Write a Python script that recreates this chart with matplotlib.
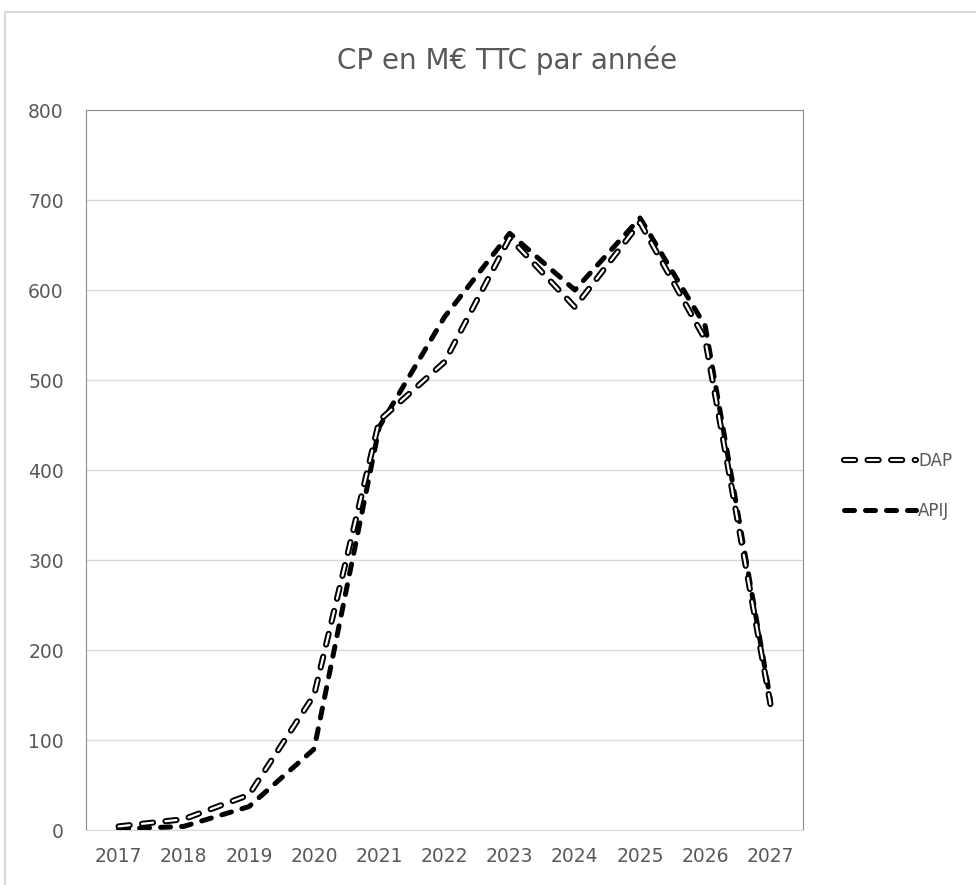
import matplotlib.pyplot as plt
import matplotlib.patheffects as pe
from matplotlib.patches import Rectangle

years = ['2017', '2018', '2019', '2020', '2021', '2022', '2023', '2024', '2025', '2026', '2027']
dap = [4, 12, 39, 150, 455, 520, 658, 581, 675, 545, 140]
apij = [1, 4, 26, 90, 448, 570, 663, 600, 680, 560, 145]

plt.rcParams['font.family'] = ['DejaVu Sans']
txt = '#595959'

fig = plt.figure(figsize=(9.76, 8.85), dpi=100)
fig.patches.append(Rectangle((5 / 976, -0.1), 1.2, 0.1 + (885 - 12) / 885,
                             transform=fig.transFigure, fill=False,
                             edgecolor='#d9d9d9', linewidth=1.5))
ax = fig.add_axes([86 / 976, 55 / 885, 717 / 976, 720 / 885])

x = list(range(len(years)))
ax.plot(x, apij, color='black', linewidth=3.6, linestyle=(0, (2.0, 2.2)),
        dash_capstyle='round', label='APIJ', zorder=3)
ax.plot(x, dap, color='white', linewidth=1.6, linestyle=(0, (5.0, 5.6)),
        dash_capstyle='round', label='DAP', zorder=4,
        path_effects=[pe.Stroke(linewidth=4.4, foreground='black'), pe.Normal()])

ax.set_xlim(-0.5, len(years) - 0.5)
ax.set_ylim(0, 800)
ax.set_yticks(range(0, 801, 100))
ax.set_xticks(x)
ax.set_xticklabels(years)
ax.grid(axis='y', color='#d9d9d9', linewidth=1)
ax.set_axisbelow(True)
ax.tick_params(length=0, labelsize=13.5, colors=txt, pad=12)
ax.tick_params(axis='y', pad=16)
for s in ['left', 'right', 'top']:
    ax.spines[s].set_color('#8c8c8c')
ax.spines['bottom'].set_color('#d9d9d9')

fig.text(507 / 976, 1 - 60 / 885, 'CP en M€ TTC par année', ha='center', va='center',
         fontsize=20, color=txt)

h, l = ax.get_legend_handles_labels()
fig.legend(h[::-1], l[::-1], loc='center left', bbox_to_anchor=(829 / 976, 1 - 486 / 885),
           frameon=False, fontsize=12, labelcolor=txt, handlelength=4.3,
           handletextpad=0.15, labelspacing=1.9)

fig.savefig('out.png', dpi=100)
